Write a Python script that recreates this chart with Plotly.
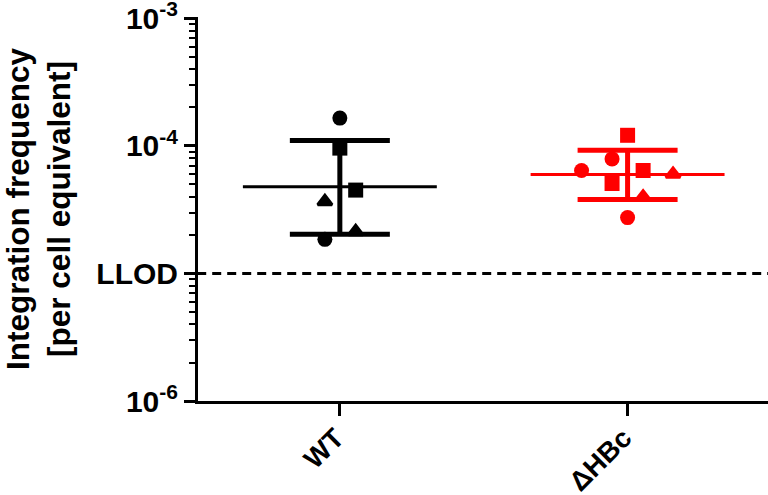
import plotly.graph_objects as go

# ---------------- data ----------------
categories = ["WT", "ΔHBc"]
cat_pos = [0, 1]

wt_values = [1.65e-4, 9.6e-5, 4.5e-5, 3.66e-5, 2.13e-5, 1.85e-5]
wt_replicate = ["A", "B", "B", "C", "C", "A"]
wt_jitter = [0.0, 0.0, 0.055, -0.052, 0.055, -0.052]

dhbc_values = [1.21e-4, 7.9e-5, 6.41e-5, 6.41e-5, 6.0e-5, 5.07e-5, 3.98e-5, 2.74e-5]
dhbc_replicate = ["B", "A", "A", "B", "C", "B", "C", "A"]
dhbc_jitter = [0.0, -0.054, -0.160, 0.054, 0.158, -0.054, 0.054, 0.0]

# summary (geometric mean and spread)
means = [4.78e-5, 5.96e-5]
upper = [1.10e-4, 9.22e-5]
lower = [2.03e-5, 3.80e-5]

llod = 1e-5

y_tickvals = [1e-3, 1e-4, 1e-5, 1e-6]
y_ticktext = ["10<sup>-3</sup>", "10<sup>-4</sup>", "LLOD", "10<sup>-6</sup>"]

colors = ["#000000", "#FF0000"]
symbol_map = {"A": "circle", "B": "square", "C": "triangle-up"}

FONT = "Liberation Sans, Arial, Helvetica, sans-serif"

fig = go.Figure()

# LLOD dashed line
fig.add_trace(go.Scatter(
    x=[-0.6, 1.6], y=[llod, llod], mode="lines",
    line=dict(color="black", width=3, dash="9px,6px"),
    hoverinfo="skip", showlegend=False))

groups = [
    (wt_values, wt_replicate, wt_jitter),
    (dhbc_values, dhbc_replicate, dhbc_jitter),
]

for i, (vals, reps, jit) in enumerate(groups):
    c = cat_pos[i]
    col = colors[i]
    # mean line
    fig.add_trace(go.Scatter(
        x=[c - 0.337, c + 0.337], y=[means[i], means[i]], mode="lines",
        line=dict(color=col, width=3.2), showlegend=False, hoverinfo="skip"))
    # error bars
    fig.add_trace(go.Scatter(
        x=[c], y=[means[i]], mode="markers",
        marker=dict(size=1, color="rgba(0,0,0,0)"),
        error_y=dict(type="data", symmetric=False,
                     array=[upper[i] - means[i]],
                     arrayminus=[means[i] - lower[i]],
                     color=col, thickness=5, width=50),
        showlegend=False, hoverinfo="skip"))
    # points by replicate
    for rep in ["A", "B", "C"]:
        xs = [c + jit[k] for k in range(len(vals)) if reps[k] == rep]
        ys = [vals[k] for k in range(len(vals)) if reps[k] == rep]
        sym = symbol_map[rep]
        if sym == "triangle-up":
            mk = dict(symbol=sym, size=12.5, color=col, line=dict(color=col, width=3))
        else:
            mk = dict(symbol=sym, size=15, color=col, line=dict(width=0))
        fig.add_trace(go.Scatter(x=xs, y=ys, mode="markers", marker=mk,
                                 showlegend=False))

fig.update_layout(
    width=768, height=495,
    margin=dict(l=198.2, r=0, t=16.7, b=94),
    paper_bgcolor="white", plot_bgcolor="white",
    font=dict(family=FONT, color="black"),
    showlegend=False,
)

fig.update_xaxes(
    range=[-0.493, 1.488],
    automargin=False,
    tickmode="array", tickvals=cat_pos, ticktext=categories,
    tickangle=-45,
    tickfont=dict(size=27.5, family=FONT, weight="bold"),
    ticklabeloverflow="allow",
    ticklabelstandoff=-5, ticklabelshift=-4,
    showline=True, linecolor="black", linewidth=3,
    ticks="outside", ticklen=12, tickwidth=3, tickcolor="black",
    showgrid=False, zeroline=False,
)

minor_vals = [m * 10 ** e for e in range(-6, -3) for m in range(2, 10)]

fig.update_yaxes(
    type="log", range=[-6, -2.99],
    automargin=False,
    tickmode="array", tickvals=y_tickvals, ticktext=y_ticktext,
    tickfont=dict(size=30, family=FONT, weight="bold"),
    ticklabeloverflow="allow",
    showline=True, linecolor="black", linewidth=3,
    ticks="outside", ticklen=11, tickwidth=3, tickcolor="black",
    minor=dict(tickmode="array", tickvals=minor_vals, ticks="outside",
               ticklen=6, tickwidth=2, tickcolor="black", showgrid=False),
    showgrid=False, zeroline=False,
    title=dict(text="Integration frequency<br>[per cell equivalent]",
               font=dict(size=31.5, family=FONT, weight="bold"),
               standoff=23),
)

fig.write_html("out.html",
               config={"displayModeBar": False},
               post_script="document.body.style.margin='0';")
